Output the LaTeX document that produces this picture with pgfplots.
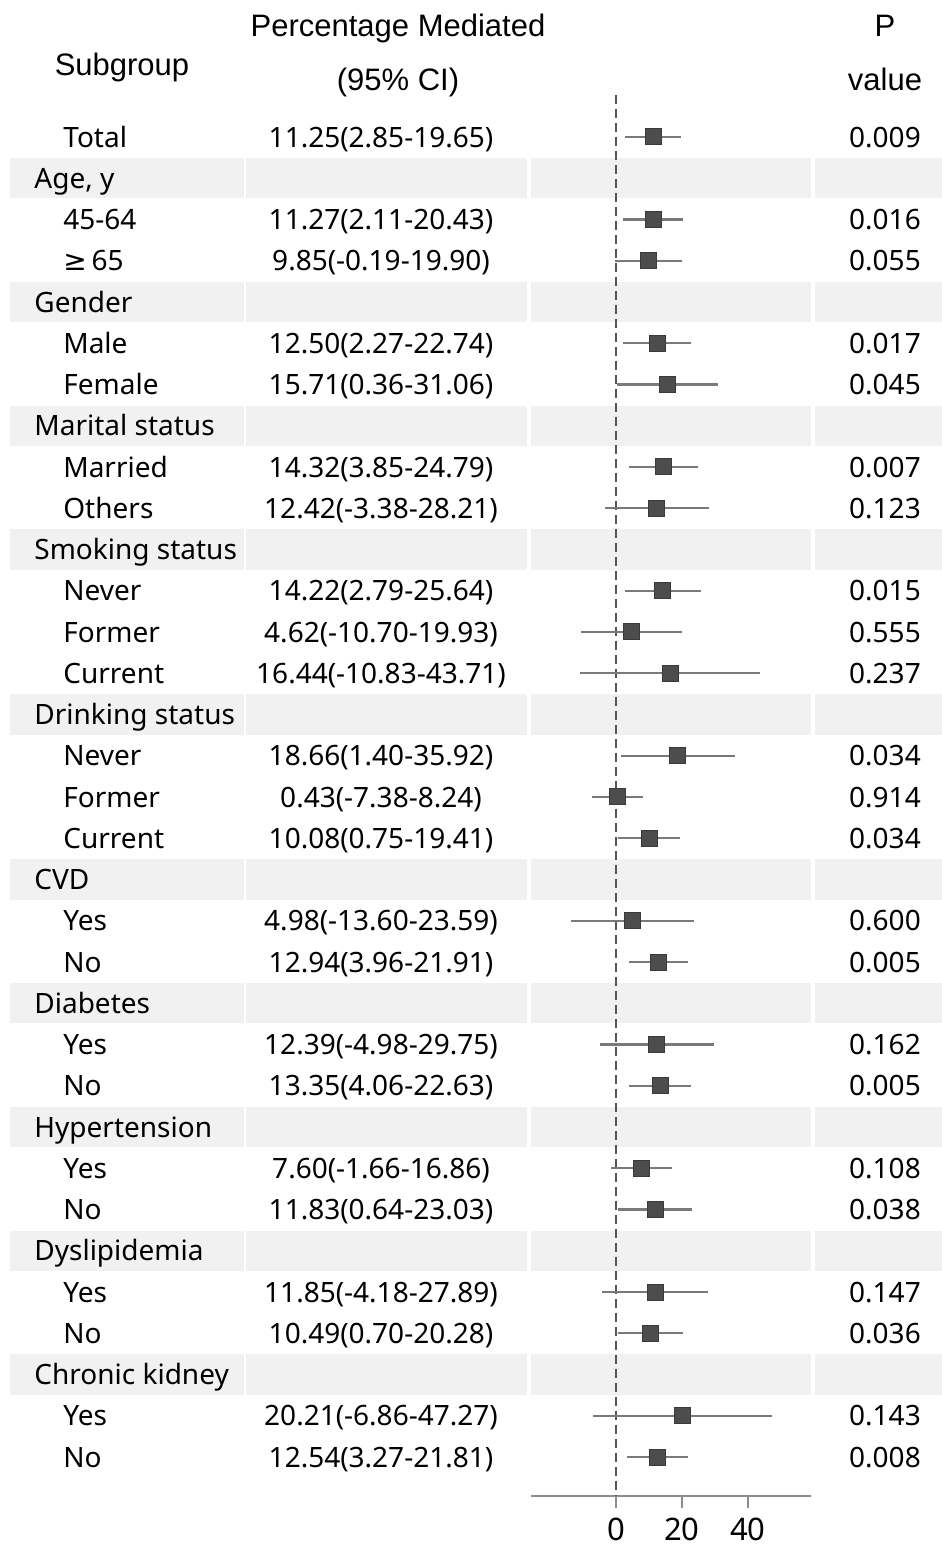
\documentclass[border=0pt]{standalone}
\usepackage{fontspec}
\setmainfont{Noto Sans}
\newfontfamily\headfont{Liberation Sans}
\newfontfamily\symfont{DejaVu Sans}
\usepackage{pgfplots}
\usepackage{pgfplotstable}
\pgfplotsset{compat=1.18}

\definecolor{bandgray}{HTML}{F1F1F1}
\definecolor{sqfill}{HTML}{4D4D4D}
\definecolor{sqdraw}{HTML}{3A3A3A}
\definecolor{cigray}{HTML}{7A7A7A}
\definecolor{axgray}{HTML}{8C8C8C}
\definecolor{dashgray}{HTML}{555555}

\pgfplotstableread{
row est lo hi
0 11.25 2.85 19.65
2 11.27 2.11 20.43
3 9.85 -0.19 19.90
5 12.50 2.27 22.74
6 15.71 0.36 31.06
8 14.32 3.85 24.79
9 12.42 -3.38 28.21
11 14.22 2.79 25.64
12 4.62 -10.70 19.93
13 16.44 -10.83 43.71
15 18.66 1.40 35.92
16 0.43 -7.38 8.24
17 10.08 0.75 19.41
19 4.98 -13.60 23.59
20 12.94 3.96 21.91
22 12.39 -4.98 29.75
23 13.35 4.06 22.63
25 7.60 -1.66 16.86
26 11.83 0.64 23.03
28 11.85 -4.18 27.89
29 10.49 0.70 20.28
31 20.21 -6.86 47.27
32 12.54 3.27 21.81
}\forestdata

\newcommand{\rowfont}{\fontsize{14}{17}\selectfont}
\newcommand{\hfont}{\headfont\fontsize{15.5}{18}\selectfont}

\newcommand{\grp}[2]{%
  \fill[bandgray] (axis cs:-183.64,{-#1+0.49}) rectangle (axis cs:-112.73,{-#1-0.49});
  \fill[bandgray] (axis cs:-112.12,{-#1+0.49}) rectangle (axis cs:-26.97,{-#1-0.49});
  \fill[bandgray] (axis cs:-25.76,{-#1+0.49}) rectangle (axis cs:59.09,{-#1-0.49});
  \fill[bandgray] (axis cs:60.30,{-#1+0.49}) rectangle (axis cs:98.79,{-#1-0.49});
  \node[anchor=base west,font=\rowfont,inner sep=0pt] at (axis cs:-176.36,{-#1-0.245}) {#2};}

\newcommand{\srow}[4]{%
  \node[anchor=base west,font=\rowfont,inner sep=0pt] at (axis cs:-167.58,{-#1-0.245}) {#2};
  \node[anchor=base,font=\rowfont,inner sep=0pt] at (axis cs:-71.21,{-#1-0.245}) {#3};
  \node[anchor=base,font=\rowfont,inner sep=0pt] at (axis cs:81.52,{-#1-0.245}) {#4};}

\begin{document}
\begin{tikzpicture}
\begin{axis}[
  x=1.65pt, y=20.625pt,
  xmin=-25.76, xmax=59.09,
  ymin=-32.95, ymax=1.02,
  clip=false,
  axis x line*=bottom,
  axis y line=none,
  x axis line style={-, draw=axgray, line width=1pt},
  xtick={0,20,40},
  ytick=\empty,
  tick align=outside,
  major tick length=6pt,
  xtick style={draw=axgray, line width=1pt},
  xticklabel style={font=\fontsize{15.5}{18}\selectfont, inner sep=0pt, yshift=-4.5pt},
  /pgf/number format/assume math mode=true,
]
% bounding box corners
\coordinate (TL) at (axis cs:-186.67,3.321);
\coordinate (BR) at (axis cs:98.79,-34.23);

% group bands and labels
\grp{1}{Age, y}
\grp{4}{Gender}
\grp{7}{Marital status}
\grp{10}{Smoking status}
\grp{14}{Drinking status}
\grp{18}{CVD}
\grp{21}{Diabetes}
\grp{24}{Hypertension}
\grp{27}{Dyslipidemia}
\grp{30}{Chronic kidney}

% reference line
\addplot[dashgray, line width=1pt, dash pattern=on 4.5pt off 2.5pt, mark=none]
  coordinates {(0,1.02) (0,-32.95)};

% confidence intervals
\addplot[draw=none, mark=none,
  error bars/.cd, x dir=both, x explicit, error mark=none,
  error bar style={line width=1.2pt, draw=cigray}]
  table[x=est, y expr=-\thisrow{row},
        x error minus expr=\thisrow{est}-\thisrow{lo},
        x error plus expr=\thisrow{hi}-\thisrow{est}] {\forestdata};

% point estimates
\addplot[only marks, mark=square*, mark size=4pt,
  mark options={fill=sqfill, draw=sqdraw, line width=0.5pt}]
  table[x=est, y expr=-\thisrow{row}] {\forestdata};

% headers
\node[anchor=base,font=\hfont,inner sep=0pt] at (axis cs:-149.70,1.479) {Subgroup};
\node[anchor=base,font=\hfont,inner sep=0pt] at (axis cs:-66.06,2.448) {Percentage Mediated};
\node[anchor=base,font=\hfont,inner sep=0pt] at (axis cs:-66.06,1.115) {(95\% CI)};
\node[anchor=base,font=\hfont,inner sep=0pt] at (axis cs:81.52,2.448) {P};
\node[anchor=base,font=\hfont,inner sep=0pt] at (axis cs:81.52,1.115) {value};

% rows
\srow{0}{Total}{11.25(2.85-19.65)}{0.009}
\srow{2}{45-64}{11.27(2.11-20.43)}{0.016}
\srow{3}{{\symfont ≥}\,65}{9.85(-0.19-19.90)}{0.055}
\srow{5}{Male}{12.50(2.27-22.74)}{0.017}
\srow{6}{Female}{15.71(0.36-31.06)}{0.045}
\srow{8}{Married}{14.32(3.85-24.79)}{0.007}
\srow{9}{Others}{12.42(-3.38-28.21)}{0.123}
\srow{11}{Never}{14.22(2.79-25.64)}{0.015}
\srow{12}{Former}{4.62(-10.70-19.93)}{0.555}
\srow{13}{Current}{16.44(-10.83-43.71)}{0.237}
\srow{15}{Never}{18.66(1.40-35.92)}{0.034}
\srow{16}{Former}{0.43(-7.38-8.24)}{0.914}
\srow{17}{Current}{10.08(0.75-19.41)}{0.034}
\srow{19}{Yes}{4.98(-13.60-23.59)}{0.600}
\srow{20}{No}{12.94(3.96-21.91)}{0.005}
\srow{22}{Yes}{12.39(-4.98-29.75)}{0.162}
\srow{23}{No}{13.35(4.06-22.63)}{0.005}
\srow{25}{Yes}{7.60(-1.66-16.86)}{0.108}
\srow{26}{No}{11.83(0.64-23.03)}{0.038}
\srow{28}{Yes}{11.85(-4.18-27.89)}{0.147}
\srow{29}{No}{10.49(0.70-20.28)}{0.036}
\srow{31}{Yes}{20.21(-6.86-47.27)}{0.143}
\srow{32}{No}{12.54(3.27-21.81)}{0.008}
\end{axis}
\pgfresetboundingbox
\path (TL) rectangle (BR);
\end{tikzpicture}
\end{document}
